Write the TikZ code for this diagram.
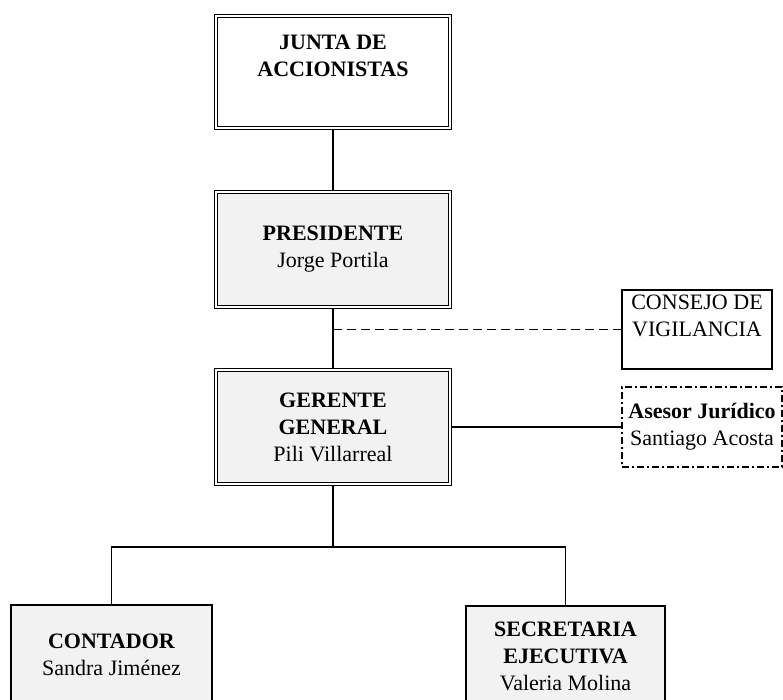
\documentclass[tikz,border=0pt]{standalone}
\usepackage{fontspec}
\setmainfont{Liberation Serif}
\begin{document}
\begin{tikzpicture}[x=1pt,y=-1pt,
    texto/.style={font=\fontsize{22}{27}\selectfont,align=center},
    doble/.style={texto,draw=black,line width=1.3pt,double=white,double distance=1.5pt,
                  minimum width=234pt,inner sep=0pt},
    simple/.style={texto,draw=black,line width=1.3pt,inner sep=0pt},
    rayas/.style={dash pattern=on 9pt off 5pt,line width=1.6pt},
    rayapunto/.style={dash pattern=on 7pt off 3pt on 2pt off 3pt},
    linea/.style={line width=1.1pt}]
  \clip (0,0) rectangle (783,700);
  % cargos principales
  \node[doble,fill=white,minimum height=112pt,
        label={[texto,font=\fontsize{22}{27}\selectfont\bfseries,yshift=16pt]center:{JUNTA DE\\ACCIONISTAS}}]
        (junta) at (333,72) {};
  \node[doble,fill=gray!10,minimum height=115pt] (presidente) at (333,249.5)
        {\textbf{PRESIDENTE}\\Jorge Portila};
  \node[doble,fill=gray!10,minimum height=114pt] (gerente) at (333,427)
        {\textbf{GERENTE}\\\textbf{GENERAL}\\Pili Villarreal};
  % staff
  \node[simple,fill=white,minimum width=150pt,minimum height=79pt,
        label={[texto,yshift=14pt]center:{CONSEJO DE\\VIGILANCIA}}]
        (consejo) at (697,329.5) {};
  \node[simple,rayapunto,fill=white,minimum width=160pt,minimum height=80pt] (asesor) at (702,427)
        {\textbf{Asesor Jurídico}\\Santiago Acosta};
  % dependencias
  \node[simple,fill=gray!10,minimum width=201pt,minimum height=100pt] (contador) at (111.5,655)
        {\textbf{CONTADOR}\\Sandra Jiménez};
  \node[simple,fill=gray!10,minimum width=199pt,minimum height=100pt] (secretaria) at (565.5,656)
        {\textbf{SECRETARIA}\\\textbf{EJECUTIVA}\\Valeria Molina};
  \coordinate (vig) at (junta.south |- consejo.west);
  \coordinate (rama) at (333,547);
  \draw[linea] (junta) -- (presidente);
  \draw[linea] (presidente) -- (gerente);
  \draw[rayas] (vig) -- (consejo.west);
  \draw[linea] (gerente.east) -- (asesor.west);
  \draw[linea] (gerente.south) -- (rama) -| (contador.north);
  \draw[linea] (rama) -| (secretaria.north);
\end{tikzpicture}
\end{document}
